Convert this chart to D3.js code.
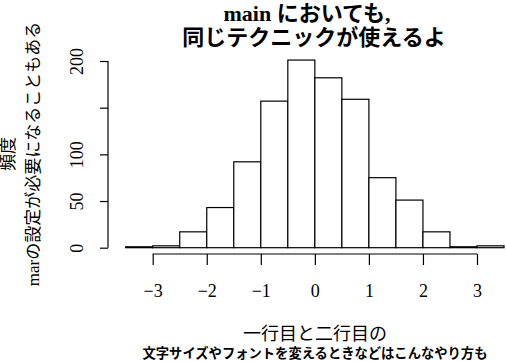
<!DOCTYPE html>
<html><head><meta charset="utf-8">
<script src="https://cdn.jsdelivr.net/npm/d3@7"></script>
<style>
html,body{margin:0;padding:0;background:#fff;}
text{font-family:"Liberation Serif","Noto Sans CJK JP",serif;fill:#000;}
</style></head>
<body><svg id="c" width="506" height="361"></svg>
<script>
const binStarts = [-3.5,-3,-2.5,-2,-1.5,-1,-0.5,0,0.5,1,1.5,2,2.5,3];
const binWidth = 0.5;
const counts = [1,2,17,43,92,157,201,182,159,75,51,17,1,2];
const xTicks = [-3,-2,-1,0,1,2,3];
const yTicks = [0,50,100,150,200];
const yTickLabels = ["0","50","100","","200"];
const titleLines = ["main においても,","同じテクニックが使えるよ"];
const xLabelLines = ["一行目と二行目の","文字サイズやフォントを変えるときなどはこんなやり方も"];
const yLabelLines = ["頻度","marの設定が必要になることもある"];

const svg = d3.select("#c");
const x = d3.scaleLinear().domain([-3,3]).range([152.7,477]);
const y = d3.scaleLinear().domain([0,200]).range([247.7,61]);

// bars
svg.append("g").selectAll("rect").data(binStarts).join("rect")
  .attr("x",(d)=>x(d)).attr("width",(d)=>x(d+binWidth)-x(d))
  .attr("y",(d,i)=>y(counts[i])).attr("height",(d,i)=>y(0)-y(counts[i]))
  .attr("fill","#fff").attr("stroke","#000").attr("stroke-width",1.2);

// x axis
const xa = svg.append("g").attr("transform","translate(0,254)")
  .call(d3.axisBottom(x).tickValues(xTicks).tickSize(11).tickPadding(19).tickFormat(d3.format("d")));
xa.select(".domain").attr("d",`M${x(-3)},0H${x(3)}`).attr("stroke-width",1.2);
xa.selectAll(".tick line").attr("stroke-width",1.2);
xa.selectAll("text").attr("font-size",18).attr("font-family",null).style("font-family",'"Liberation Serif",serif');

// y axis
const ya = svg.append("g").attr("transform","translate(108,0)")
  .call(d3.axisLeft(y).tickValues(yTicks).tickSize(8).tickFormat((d,i)=>yTickLabels[i]));
ya.select(".domain").attr("d",`M0,${y(0)}V${y(200)}`).attr("stroke-width",1.2);
ya.selectAll(".tick line").attr("stroke-width",1.2);
ya.selectAll(".tick text").attr("x",null).attr("dy",null)
  .attr("font-size",18).attr("font-family",null).style("font-family",'"Liberation Serif",serif')
  .attr("text-anchor","middle").attr("dominant-baseline","central")
  .attr("transform","translate(-31,0) rotate(-90)");

// title
svg.append("g").selectAll("text").data(titleLines).join("text")
  .attr("x",(d,i)=>[307,314][i]).attr("y",(d,i)=>[13,37][i]).attr("text-anchor","middle")
  .attr("dominant-baseline","central").attr("font-size",22).attr("font-weight","bold").text(d=>d);

// x label
svg.append("g").selectAll("text").data(xLabelLines).join("text")
  .attr("x",315).attr("y",(d,i)=>[334,353][i]).attr("text-anchor","middle")
  .attr("dominant-baseline","central").attr("font-size",(d,i)=>[18,13.3][i])
  .attr("font-weight",(d,i)=>i===1?"bold":"normal").text(d=>d);

// y label
svg.append("g").selectAll("text").data(yLabelLines).join("text")
  .attr("text-anchor","middle").attr("dominant-baseline","central")
  .attr("font-size",17)
  .attr("transform",(d,i)=>`translate(${[8,33][i]},154) rotate(-90)`).text(d=>d);
</script></body></html>
